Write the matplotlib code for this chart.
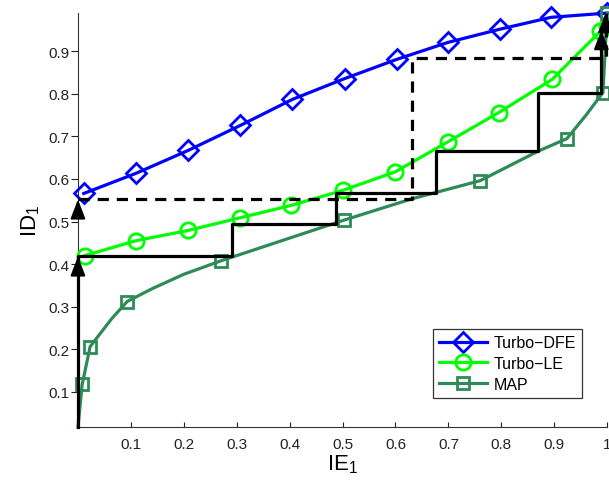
import numpy as np
import matplotlib
matplotlib.use('Agg')
import matplotlib.pyplot as plt

plt.rcParams['font.family'] = ['Liberation Sans', 'DejaVu Sans']
plt.rcParams['mathtext.fontset'] = 'custom'
plt.rcParams['mathtext.rm'] = 'Liberation Sans'
plt.rcParams['mathtext.it'] = 'Liberation Sans'

# EXIT curves
dfe_x = [0.011, 0.109, 0.208, 0.307, 0.405, 0.504, 0.602, 0.699, 0.797, 0.894, 1.0]
dfe_y = [0.566, 0.613, 0.667, 0.726, 0.787, 0.836, 0.881, 0.921, 0.952, 0.980, 0.990]

le_x = [0.013, 0.110, 0.208, 0.307, 0.403, 0.500, 0.600, 0.700, 0.795, 0.896, 0.987, 1.0]
le_y = [0.420, 0.455, 0.479, 0.509, 0.538, 0.573, 0.617, 0.688, 0.756, 0.834, 0.947, 0.960]

map_x = [0.0, 0.008, 0.023, 0.064, 0.093, 0.14, 0.20, 0.271, 0.39, 0.502, 0.63, 0.76, 0.869, 0.924, 0.96, 0.992, 1.0]
map_y = [0.017, 0.117, 0.206, 0.272, 0.312, 0.342, 0.376, 0.408, 0.457, 0.503, 0.553, 0.596, 0.665, 0.695, 0.75, 0.803, 0.990]
map_marks = [1, 2, 4, 7, 9, 11, 13, 15, 16]

# decoding trajectories
traj_le_x = [0.0, 0.0, 0.292, 0.292, 0.487, 0.487, 0.676, 0.676, 0.869, 0.869, 0.989, 0.989]
traj_le_y = [0.017, 0.418, 0.418, 0.495, 0.495, 0.568, 0.568, 0.665, 0.665, 0.801, 0.801, 0.950]

traj_dfe_x = [0.0, 0.631, 0.631, 0.997, 0.997]
traj_dfe_y = [0.552, 0.552, 0.884, 0.884, 0.990]

fig = plt.figure(figsize=(6.09, 4.85), dpi=100)
ax = fig.add_axes([0.128, 0.1175, 0.869, 0.8535])

l1, = ax.plot(dfe_x, dfe_y, '-D', color='#0000ff', lw=2.3, ms=10, mew=2,
              mfc='none', clip_on=False, zorder=3, label='Turbo\u2212DFE')
l2, = ax.plot(le_x, le_y, '-o', color='#00ff00', lw=2.3, ms=11, mew=2,
              mfc='none', clip_on=False, zorder=3, label='Turbo\u2212LE')
l3, = ax.plot(map_x, map_y, '-s', color='#2e8b57', lw=2.3, ms=9, mew=2,
              mfc='none', markevery=map_marks, clip_on=False, zorder=3, label='MAP')

ax.plot(traj_le_x, traj_le_y, '-', color='k', lw=2.3, clip_on=False, zorder=4)
ax.plot(traj_dfe_x, traj_dfe_y, color='k', lw=2.3, ls=(0, (3.5, 2.5)),
        clip_on=False, zorder=4)

# arrow heads at the end of the vertical moves
arrow = dict(arrowstyle='-|>,head_length=0.65,head_width=0.25', color='k',
             lw=1.5, mutation_scale=18, shrinkA=0, shrinkB=0)
for x0, y1 in [(0.0, 0.418), (0.0, 0.552), (0.989, 0.950), (0.997, 0.990)]:
    ax.annotate('', xy=(x0, y1), xytext=(x0, y1 - 0.04), arrowprops=arrow,
                annotation_clip=False, zorder=5)

ax.set_xlim(0, 1)
ax.set_ylim(0.017, 0.99)
ax.set_xticks(np.arange(0.1, 1.01, 0.1))
ax.set_xticklabels(['0.1', '0.2', '0.3', '0.4', '0.5', '0.6', '0.7', '0.8', '0.9', '1'])
ax.set_yticks(np.arange(0.1, 0.91, 0.1))
ax.set_yticklabels(['0.1', '0.2', '0.3', '0.4', '0.5', '0.6', '0.7', '0.8', '0.9'])

for s in ['top', 'right']:
    ax.spines[s].set_visible(False)
for s in ['left', 'bottom']:
    ax.spines[s].set_color('#333333')
    ax.spines[s].set_linewidth(0.8)

ax.tick_params(axis='x', direction='in', length=3.5, width=0.8, pad=7,
               labelsize=11, colors='#222222')
ax.tick_params(axis='y', direction='out', length=5, width=0.8, pad=1,
               labelsize=11, colors='#222222')

ax.set_xlabel(r'$\mathrm{IE}_1$', fontsize=16, labelpad=1)
ax.set_ylabel(r'$\mathrm{ID}_1$', fontsize=16, labelpad=5)

leg = ax.legend(handles=[l1, l2, l3], loc='lower right',
                bbox_to_anchor=(0.953, 0.07), borderaxespad=0, fontsize=11.5,
                frameon=True, fancybox=False, edgecolor='k', handlelength=3.0,
                borderpad=0.4, labelspacing=0.35, handletextpad=0.4)
leg.get_frame().set_linewidth(0.9)
leg.set_zorder(6)

fig.savefig('out.png', dpi=100)
